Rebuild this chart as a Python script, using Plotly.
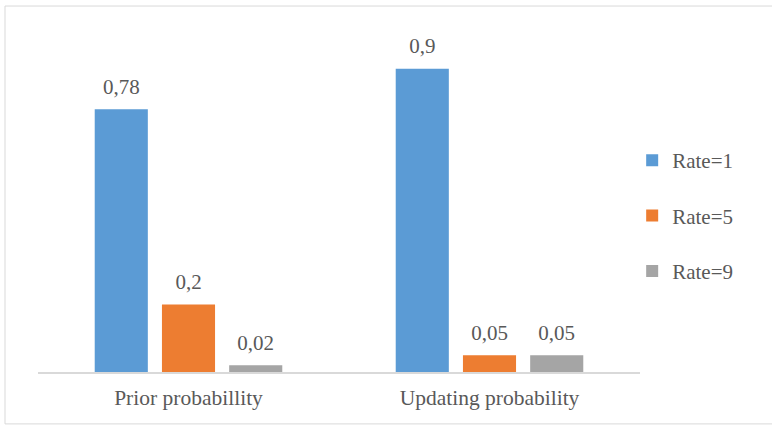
import plotly.graph_objects as go

# Categories and series values
categories = ["Prior probabillity", "Updating probability"]
series_names = ["Rate=1", "Rate=5", "Rate=9"]
rate1 = [0.78, 0.9]
rate5 = [0.2, 0.05]
rate9 = [0.02, 0.05]

colors = ["#5B9BD5", "#ED7D31", "#A5A5A5"]
text_color = "#595959"
font_family = "Liberation Serif"


def fmt(v):
    return f"{v:g}".replace(".", ",")


fig = go.Figure()
all_series = [rate1, rate5, rate9]
for i, (name, vals) in enumerate(zip(series_names, all_series)):
    fig.add_trace(go.Bar(
        x=categories,
        y=vals,
        name=name,
        marker=dict(color=colors[i], line=dict(width=0)),
        legendgroup=name,
    ))

# Value labels, grouped the same way as the bars
for i, (name, vals) in enumerate(zip(series_names, all_series)):
    fig.add_trace(go.Scatter(
        x=categories,
        y=vals,
        mode="markers+text",
        text=[fmt(v) for v in vals],
        textposition="top center",
        marker=dict(size=15, color="rgba(0,0,0,0)"),
        textfont=dict(size=21, color=text_color, family=font_family),
        showlegend=False,
        hoverinfo="skip",
        cliponaxis=False,
    ))

fig.update_layout(
    width=772,
    height=426,
    margin=dict(l=38, r=132, t=35, b=54),
    paper_bgcolor="white",
    plot_bgcolor="white",
    barmode="group",
    bargap=0.33,
    bargroupgap=0.21,
    scattermode="group",
    scattergap=0.33,
    font=dict(family=font_family, size=21, color=text_color),
    showlegend=True,
    legend=dict(
        x=0.987, xanchor="left", y=0.464, yanchor="middle",
        font=dict(size=21, color=text_color, family=font_family),
        tracegroupgap=25,
        itemwidth=30,
        bgcolor="rgba(0,0,0,0)",
    ),
    xaxis=dict(
        showline=True, linecolor="#D9D9D9", linewidth=1.5,
        showgrid=False, ticks="", ticklabelstandoff=5,
        tickfont=dict(size=21.5, color=text_color, family=font_family),
    ),
    yaxis=dict(
        range=[0, 1.0], visible=False, showgrid=False,
    ),
    shapes=[dict(
        type="rect", xref="paper", yref="paper",
        x0=-0.0548, x1=1.221, y0=-0.154, y1=1.086,
        line=dict(color="#D9D9D9", width=1), fillcolor="rgba(0,0,0,0)",
        layer="below",
    )],
)

fig.write_html("out.html")
